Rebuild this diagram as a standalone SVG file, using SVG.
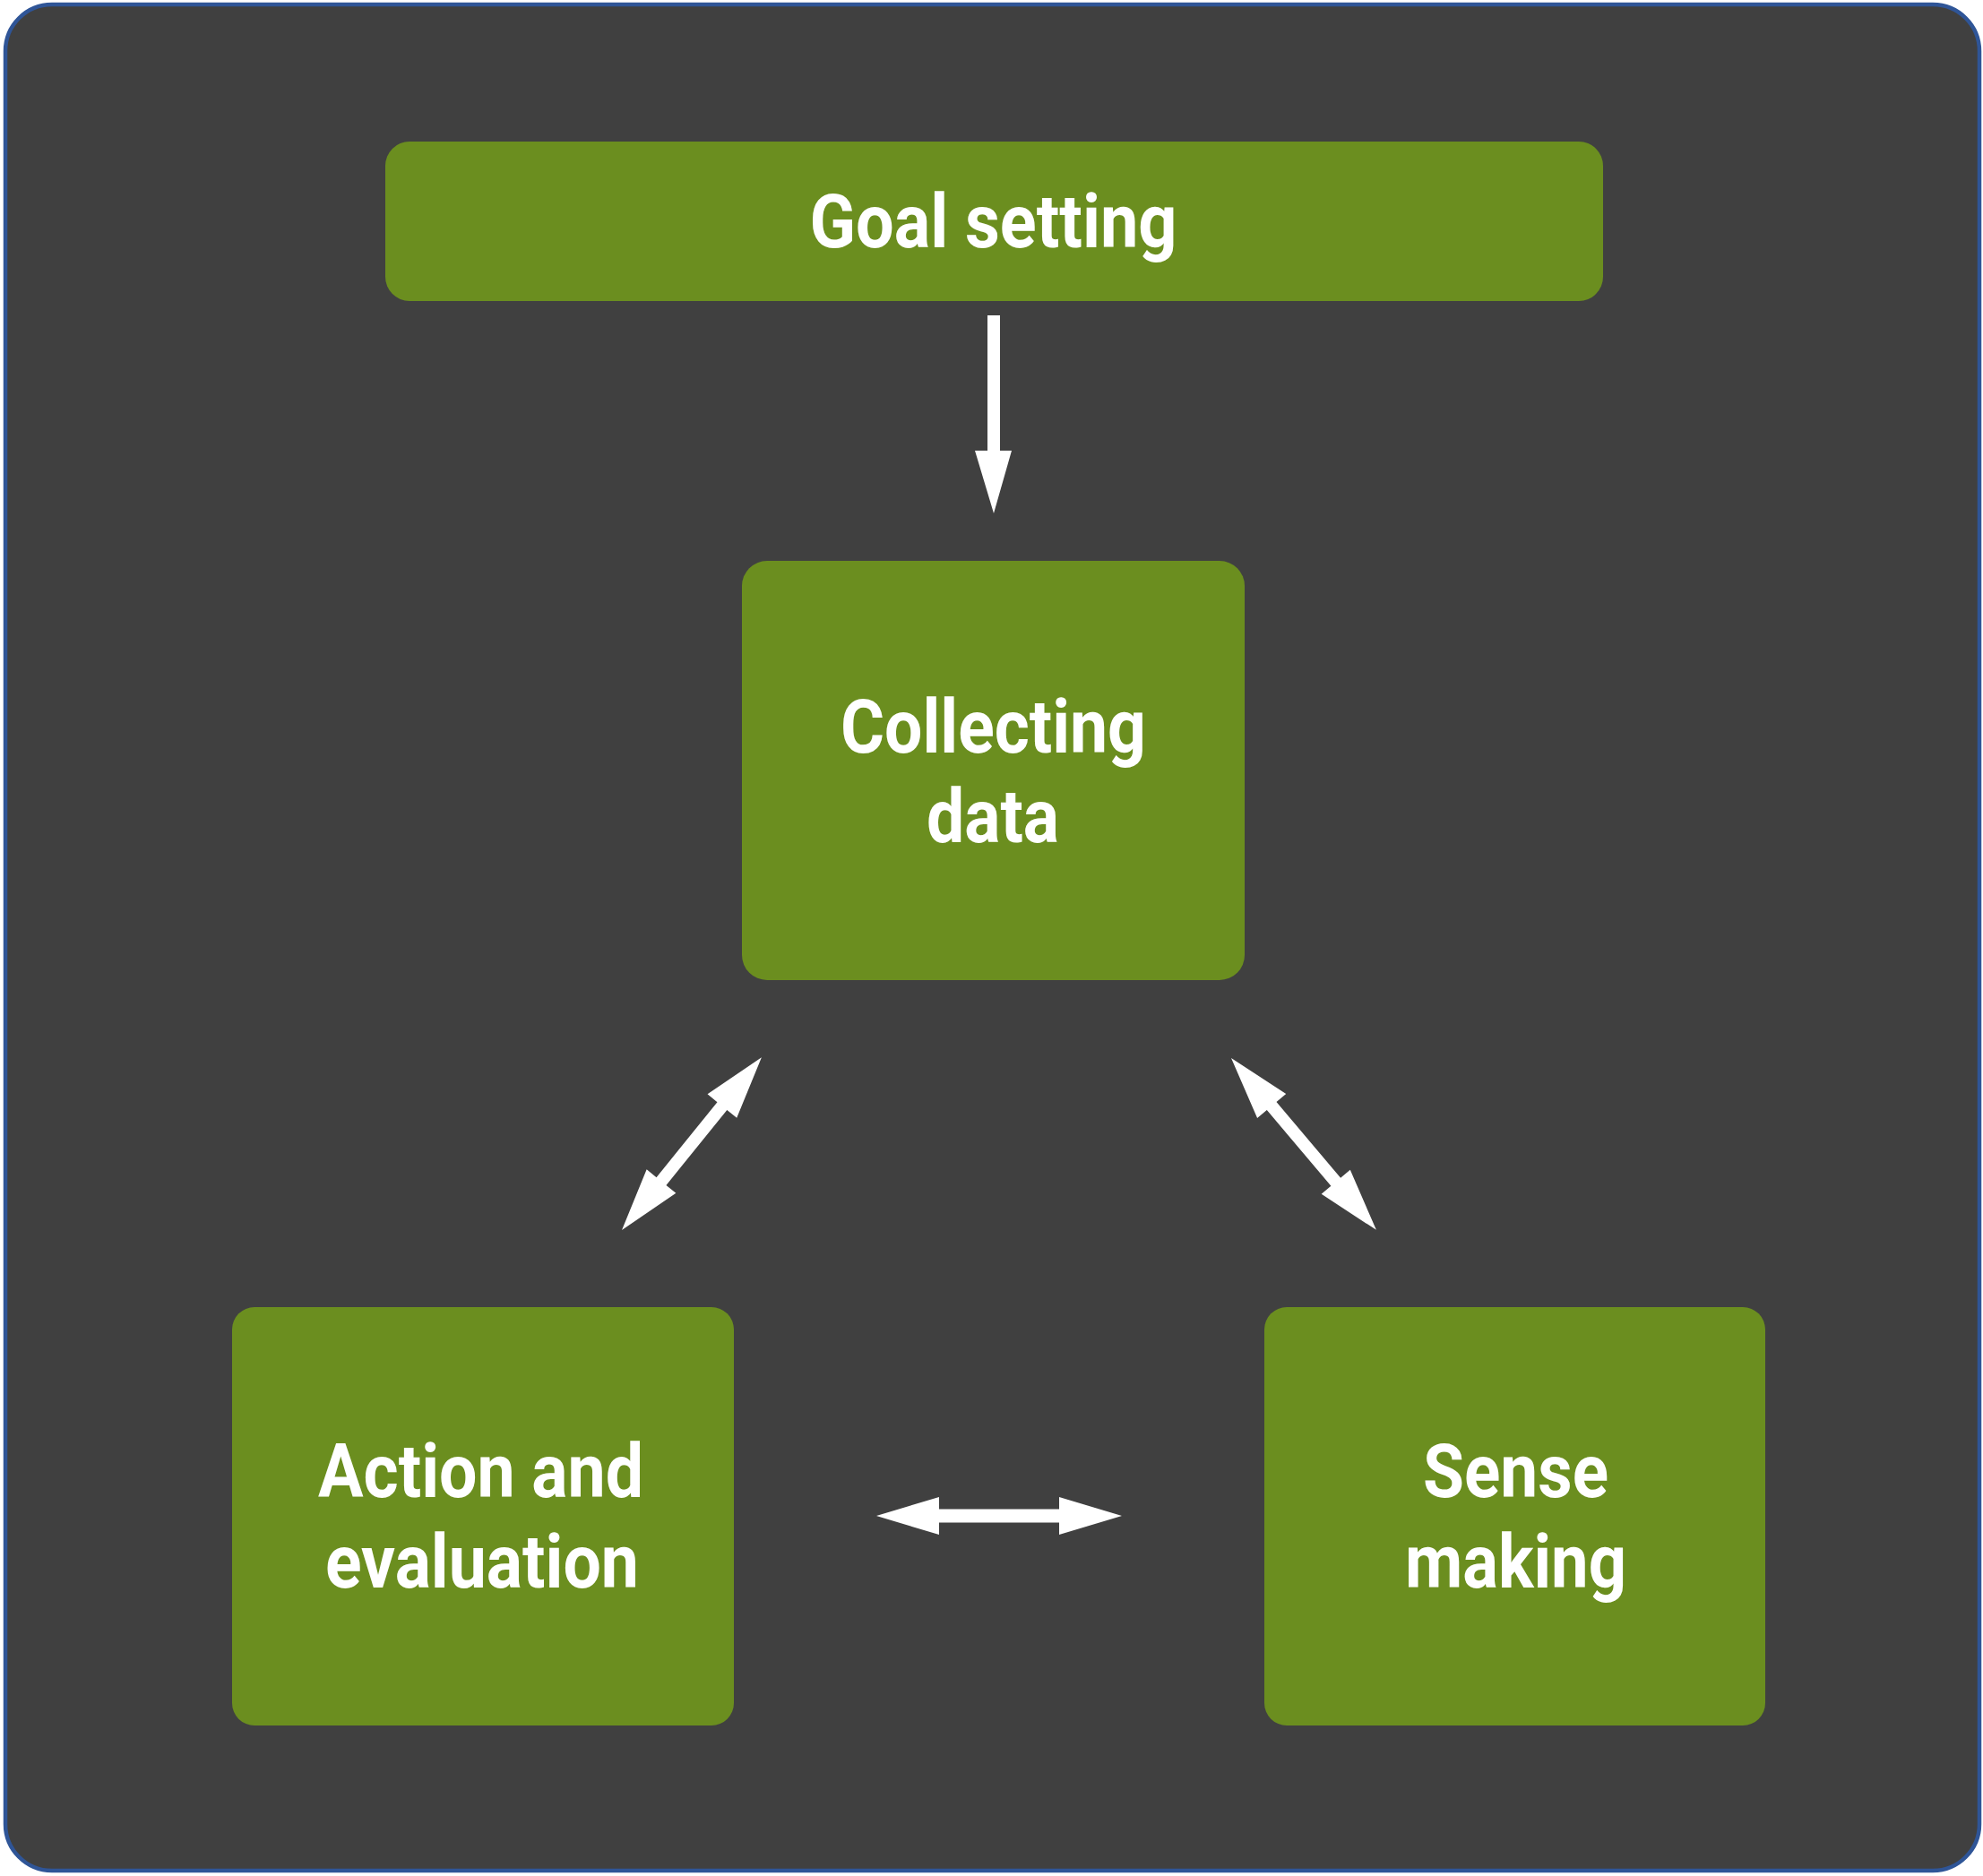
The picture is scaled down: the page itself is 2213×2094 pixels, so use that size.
<svg xmlns="http://www.w3.org/2000/svg" width="2213" height="2094" viewBox="0 0 2213 2094">
  <style>
    .node { fill: #6B8E1F; }
    .label { font-family: "Roboto", "Liberation Sans", sans-serif; font-weight: 700; font-size: 84px; fill: #FFFFFF; text-anchor: middle; }
    .conn { fill: #FFFFFF; stroke: none; }
  </style>
  <rect id="frame" x="6" y="5" width="2203" height="2083" rx="52" ry="52" fill="#404040" stroke="#2F5597" stroke-width="4.5"/>

  <g id="goal-setting">
    <rect class="node" x="430" y="158" width="1359" height="178" rx="27" ry="27"/>
    <text class="label" x="1108.5" y="276" textLength="410" lengthAdjust="spacingAndGlyphs">Goal setting</text>
  </g>

  <g id="collecting-data">
    <rect class="node" x="828" y="626" width="561" height="468" rx="28" ry="28"/>
    <text class="label" x="1108.5" y="840" textLength="341" lengthAdjust="spacingAndGlyphs">Collecting</text>
    <text class="label" x="1108" y="940" textLength="148" lengthAdjust="spacingAndGlyphs">data</text>
  </g>

  <g id="action-and-evaluation">
    <rect class="node" x="259" y="1459" width="560" height="467" rx="25" ry="25"/>
    <text class="label" x="536.5" y="1671" textLength="363" lengthAdjust="spacingAndGlyphs">Action and</text>
    <text class="label" x="538" y="1772" textLength="350" lengthAdjust="spacingAndGlyphs">evaluation</text>
  </g>

  <g id="sense-making">
    <rect class="node" x="1411" y="1459" width="559" height="467" rx="25" ry="25"/>
    <text class="label" x="1691.5" y="1671" textLength="207" lengthAdjust="spacingAndGlyphs">Sense</text>
    <text class="label" x="1691.5" y="1772" textLength="247" lengthAdjust="spacingAndGlyphs">making</text>
  </g>

  <g id="connectors">
    <path class="conn" d="M1102,352 L1116,352 L1116,503 L1129,503 L1109,573 L1088,503 L1102,503 Z"/>
    <path class="conn" transform="translate(694,1373) rotate(-51.05)" d="M0,0 L70,-21 L70,-7 L178,-7 L178,-21 L248,0 L178,21 L178,7 L70,7 L70,21 Z"/>
    <path class="conn" transform="translate(1374,1181) rotate(49.84)" d="M0,0 L70,-21 L70,-7 L181,-7 L181,-21 L251,0 L181,21 L181,7 L70,7 L70,21 Z"/>
    <path class="conn" d="M978,1692 L1048,1671 L1048,1684.5 L1182,1684.5 L1182,1671 L1252,1692 L1182,1713 L1182,1699.5 L1048,1699.5 L1048,1713 Z"/>
  </g>
</svg>
